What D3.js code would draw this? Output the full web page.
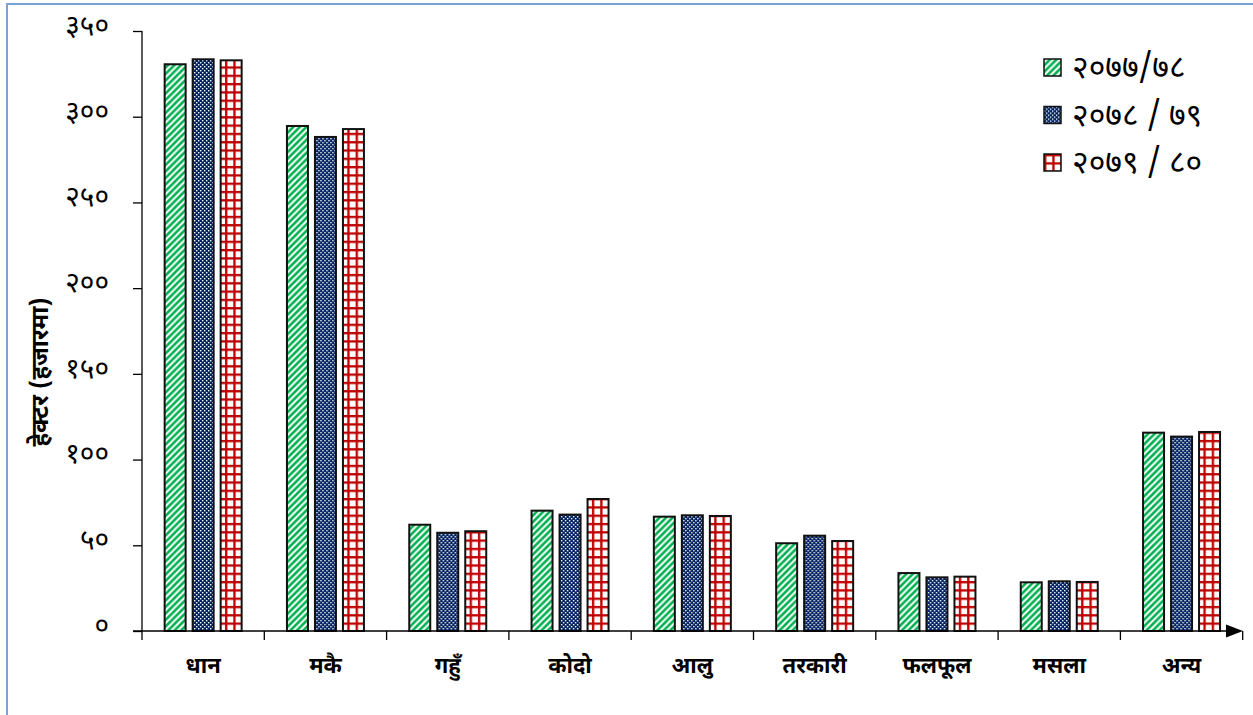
<!DOCTYPE html>
<html>
<head>
<meta charset="utf-8">
<script src="https://cdn.jsdelivr.net/npm/d3@7/dist/d3.min.js"></script>
<style>
  body { margin: 0; background: #fff; }
  svg { display: block; }
  text { font-family: "Noto Sans Devanagari", "Lohit Devanagari", "Mangal", "Noto Sans", sans-serif; }
</style>
</head>
<body>
<svg id="chart" width="1253" height="715"></svg>
<script>
// ---- data ----
const categories = ["धान", "मकै", "गहुँ", "कोदो", "आलु", "तरकारी", "फलफूल", "मसला", "अन्य"];
const seriesNames = ["२०७७/७८", "२०७८ / ७९", "२०७९ / ८०"];
const values2077 = [330.6, 294.6, 62.0, 70.2, 66.7, 51.2, 33.8, 28.4, 115.7];
const values2078 = [333.5, 288.2, 57.3, 67.9, 67.5, 55.6, 31.3, 29.0, 113.4];
const values2079 = [332.9, 292.8, 58.2, 77.0, 67.1, 52.5, 31.7, 28.6, 116.1];
const yTicks = [0, 50, 100, 150, 200, 250, 300, 350];
const yTitle = "हेक्टर (हजारमा)";

const seriesValues = [values2077, values2078, values2079];
const patternIds = ["pGreen", "pBlue", "pRed"];

const devDigits = "०१२३४५६७८९";
const toDev = n => String(n).replace(/[0-9]/g, d => devDigits[+d]);

const svg = d3.select("#chart");

// ---- patterns ----
const defs = svg.append("defs");
const pg = defs.append("pattern").attr("id", "pGreen").attr("patternUnits", "userSpaceOnUse")
  .attr("width", 6.5).attr("height", 6.5);
pg.append("rect").attr("width", 6.5).attr("height", 6.5).attr("fill", "#fff");
pg.append("path").attr("d", "M-1.5,1.5 L1.5,-1.5 M0,6.5 L6.5,0 M5,8 L8,5")
  .attr("stroke", "#00b050").attr("stroke-width", 2.6);
const pb = defs.append("pattern").attr("id", "pBlue").attr("patternUnits", "userSpaceOnUse")
  .attr("width", 4).attr("height", 4);
pb.append("rect").attr("width", 4).attr("height", 4).attr("fill", "#002060");
pb.append("rect").attr("x", 0).attr("y", 0).attr("width", 1.4).attr("height", 1.4).attr("fill", "#fff");
pb.append("rect").attr("x", 2).attr("y", 2).attr("width", 1.4).attr("height", 1.4).attr("fill", "#fff");
const pr = defs.append("pattern").attr("id", "pRed").attr("patternUnits", "userSpaceOnUse")
  .attr("width", 8.3).attr("height", 8.3);
pr.append("rect").attr("width", 8.3).attr("height", 8.3).attr("fill", "#fff");
pr.append("path").attr("d", "M1.2,0 V8.3 M0,1.2 H8.3").attr("stroke", "#c00000").attr("stroke-width", 2.3);

// ---- frame ----
svg.append("rect").attr("x", 7).attr("y", 4).attr("width", 1400).attr("height", 900)
  .attr("fill", "none").attr("stroke", "#7ea1d6").attr("stroke-width", 2);

// ---- scales ----
const x0 = d3.scaleBand().domain(categories).range([142, 1242.7]).paddingInner(0).paddingOuter(0);
const x1 = d3.scaleBand().domain(d3.range(3)).range([0, x0.bandwidth()]).paddingInner(0.25).paddingOuter(0.809);
const y = d3.scaleLinear().domain([0, 350]).range([631, 31]);

// ---- y axis ----
const yAxis = svg.append("g").attr("transform", "translate(142,0)")
  .call(d3.axisLeft(y).tickValues(yTicks).tickSize(9).tickPadding(24).tickFormat(toDev));
yAxis.select(".domain").attr("stroke", "#000").attr("stroke-width", 1.3).attr("d", "M0,31V631");
yAxis.selectAll(".tick line").attr("stroke", "#000").attr("stroke-width", 1.3);
yAxis.selectAll(".tick text").attr("font-size", 28).attr("fill", "#000").attr("dy", "0.12em")
  .style("font-family", "\"Noto Sans Devanagari\", \"Lohit Devanagari\", sans-serif");

// ---- bars ----
const groups = svg.append("g").selectAll("g").data(categories).join("g")
  .attr("transform", d => `translate(${x0(d)},0)`);
groups.selectAll("rect").data((c, ci) => seriesValues.map((s, si) => ({ si, v: s[ci] }))).join("rect")
  .attr("x", d => x1(d.si))
  .attr("width", x1.bandwidth())
  .attr("y", d => y(d.v))
  .attr("height", d => y(0) - y(d.v))
  .attr("fill", d => `url(#${patternIds[d.si]})`)
  .attr("stroke", "#111").attr("stroke-width", 2);

// ---- x axis ----
const xAxisG = svg.append("g");
xAxisG.append("line").attr("x1", 133).attr("x2", 1230).attr("y1", y(0)).attr("y2", y(0))
  .attr("stroke", "#000").attr("stroke-width", 1.3);
xAxisG.selectAll(".xt").data(categories.concat(["end"])).join("line")
  .attr("x1", (d, i) => i < categories.length ? x0(d) : x0.range()[1])
  .attr("x2", (d, i) => i < categories.length ? x0(d) : x0.range()[1])
  .attr("y1", y(0)).attr("y2", y(0) + 9)
  .attr("stroke", "#000").attr("stroke-width", 1.3);
xAxisG.append("path")
  .attr("d", `M1226,${y(0) - 6.5} L1243,${y(0)} L1226,${y(0) + 6.5} Z`).attr("fill", "#000");
xAxisG.selectAll(".xl").data(categories).join("text")
  .attr("x", d => x0(d) + x0.bandwidth() / 2)
  .attr("y", 673)
  .attr("text-anchor", "middle")
  .attr("font-size", 22).attr("font-weight", "bold").attr("fill", "#000")
  .text(d => d);

// ---- y title ----
svg.append("text")
  .attr("transform", "translate(48,372) rotate(-90)")
  .attr("text-anchor", "middle")
  .attr("font-size", 24).attr("font-weight", "bold").attr("fill", "#000")
  .text(yTitle);

// ---- legend ----
const legend = svg.append("g").selectAll("g").data(seriesNames).join("g")
  .attr("transform", (d, i) => `translate(1044,${59 + i * 47.5})`);
legend.append("rect").attr("width", 17).attr("height", 17)
  .attr("fill", (d, i) => `url(#${patternIds[i]})`)
  .attr("stroke", "#111").attr("stroke-width", 1.5);
legend.append("text").attr("x", 28).attr("y", 19)
  .attr("font-size", 32).attr("fill", "#000")
  .text(d => d);
</script>
</body>
</html>
